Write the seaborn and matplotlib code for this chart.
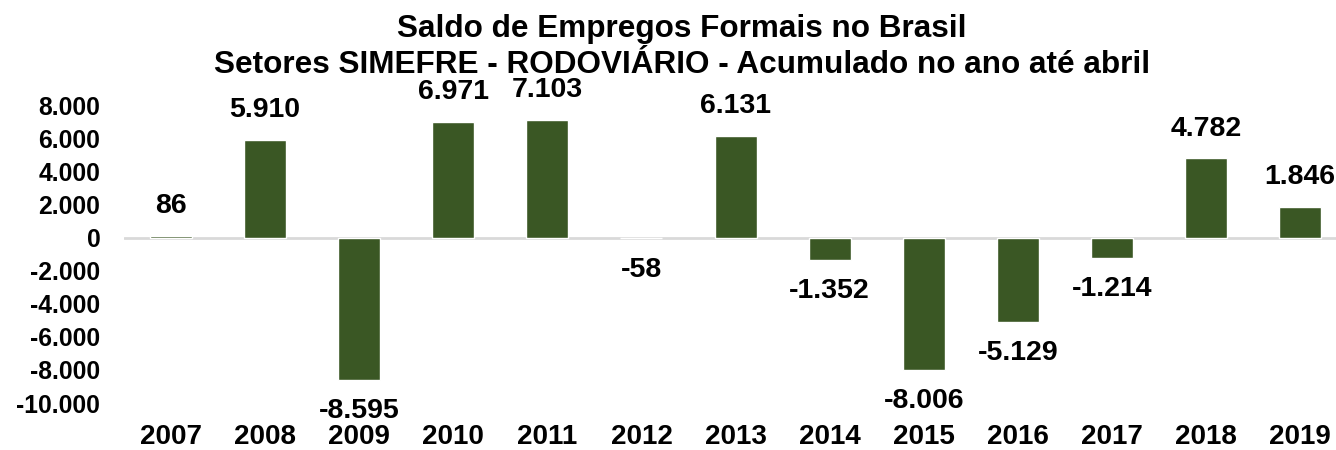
import matplotlib
matplotlib.use("Agg")
import matplotlib.pyplot as plt
import seaborn as sns
import pandas as pd

# Data
years = ["2007", "2008", "2009", "2010", "2011", "2012", "2013",
         "2014", "2015", "2016", "2017", "2018", "2019"]
saldo = [86, 5910, -8595, 6971, 7103, -58, 6131,
         -1352, -8006, -5129, -1214, 4782, 1846]

titleLines = ["Saldo de Empregos Formais no Brasil",
              "Setores SIMEFRE - RODOVIÁRIO - Acumulado no ano até abril"]

barColor = "#3A5724"


def fmtBr(v):
    return f"{v:,}".replace(",", ".")


def runChart() -> None:
    sns.set_style("white")
    plt.rcParams["font.family"] = ["Liberation Sans", "DejaVu Sans"]
    plt.rcParams["font.weight"] = "bold"
    plt.rcParams["text.color"] = "black"

    df = pd.DataFrame({"ano": years, "saldo": saldo})

    fig = plt.figure(figsize=(13.36, 4.5), dpi=100)
    ax = fig.add_axes([0.0928, 0.1044, 0.9155, 0.662])

    sns.barplot(data=df, x="ano", y="saldo", color=barColor, width=0.446,
                saturation=1, ax=ax)

    ax.set_ylim(-10000, 8000)
    ax.set_yticks(range(-10000, 8001, 2000))
    ax.set_yticklabels([fmtBr(t) for t in range(-10000, 8001, 2000)],
                       fontsize=17.8, fontweight="bold", color="black")
    ax.set_xticks(range(len(years)))
    ax.set_xticklabels(years, fontsize=20, fontweight="bold", color="black")
    ax.tick_params(axis="x", length=0, pad=15)
    ax.tick_params(axis="y", length=0, pad=17)
    ax.set_xlabel("")
    ax.set_ylabel("")

    for s in ax.spines.values():
        s.set_visible(False)
    ax.axhline(0, color="#D9D9D9", lw=2, zorder=0)

    # Value labels: above positive bars, below negative ones
    for i, v in enumerate(saldo):
        if v >= 0:
            ax.annotate(fmtBr(v), (i, v), xytext=(0, 12), textcoords="offset points",
                        ha="center", va="bottom", fontsize=20.5, fontweight="bold",
                        color="black", annotation_clip=False)
        else:
            ax.annotate(fmtBr(v), (i, v), xytext=(0, -13), textcoords="offset points",
                        ha="center", va="top", fontsize=20.5, fontweight="bold",
                        color="black", annotation_clip=False)

    fig.text(0.5105, 0.918, titleLines[0], ha="center", va="baseline",
             fontsize=22.7, fontweight="bold", color="black")
    fig.text(0.5105, 0.838, titleLines[1], ha="center", va="baseline",
             fontsize=22.7, fontweight="bold", color="black")

    fig.savefig("out.png", dpi=100)
    plt.close(fig)


if __name__ == "__main__":
    runChart()
